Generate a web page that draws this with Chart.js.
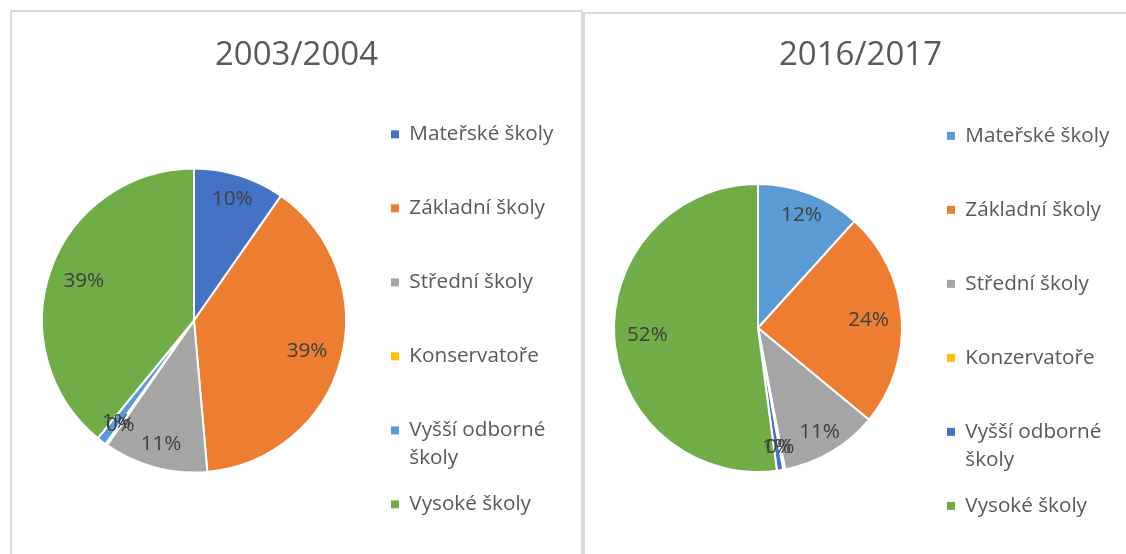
<!DOCTYPE html>
<html>
<head>
<meta charset="utf-8">
<script src="https://cdn.jsdelivr.net/npm/chart.js@4.4.1/dist/chart.umd.min.js"></script>
<style>
  html, body { margin: 0; padding: 0; background: #fff; }
  #wrap { position: relative; width: 1126px; height: 554px; overflow: hidden; }
  .panel { position: absolute; border: 2px solid #d9d9d9; box-sizing: border-box; }
  canvas { position: absolute; }
</style>
</head>
<body>
<div id="wrap">
  <div class="panel" style="left:10px; top:10px; width:573px; height:600px;"></div>
  <div class="panel" style="left:583px; top:12px; width:600px; height:600px;"></div>
  <canvas id="chart2003" width="582" height="674" style="left:0; top:0;"></canvas>
  <canvas id="chart2016" width="560" height="677" style="left:584px; top:0;"></canvas>
</div>
<script>
// share of each school type, in %
var labels2003 = ['Mateřské školy', 'Základní školy', 'Střední školy', 'Konservatoře', ['Vyšší odborné', 'školy'], 'Vysoké školy'];
var values2003 = [9.7, 38.9, 11.1, 0.2, 1.0, 39.1];
var colors2003 = ['#4472C4', '#ED7D31', '#A5A5A5', '#FFC000', '#5B9BD5', '#70AD47'];

var labels2016 = ['Mateřské školy', 'Základní školy', 'Střední školy', 'Konzervatoře', ['Vyšší odborné', 'školy'], 'Vysoké školy'];
var values2016 = [11.7, 24.3, 11.0, 0.2, 0.7, 52.1];
var colors2016 = ['#5B9BD5', '#ED7D31', '#A5A5A5', '#FFC000', '#4472C4', '#70AD47'];

var FONT = "'Open Sans', 'Noto Sans', sans-serif";
var FILLER = '\u00a0'.repeat(40); // empty 2nd legend line, keeps item rows even

// percent labels inside the slices
var pctLabels = {
  id: 'pctLabels',
  afterDatasetsDraw: function(chart) {
    var ctx = chart.ctx;
    var data = chart.data.datasets[0].data;
    var total = data.reduce(function(a, b) { return a + b; }, 0);
    chart.getDatasetMeta(0).data.forEach(function(arc, i) {
      var p = arc.getProps(['x', 'y', 'startAngle', 'endAngle', 'outerRadius'], true);
      var mid = (p.startAngle + p.endAngle) / 2;
      var k = (p.endAngle - p.startAngle) > Math.PI / 3 ? 0.77 : 0.84;
      var r = p.outerRadius * k;
      ctx.save();
      ctx.font = '20.7px ' + FONT;
      ctx.fillStyle = '#404040';
      ctx.textAlign = 'center';
      ctx.textBaseline = 'middle';
      ctx.fillText(Math.round(data[i] / total * 100) + '%', p.x + Math.cos(mid) * r, p.y + Math.sin(mid) * r);
      ctx.restore();
    });
  }
};

function makePie(id, title, labels, values, colors, radius, pad, subPad) {
  return new Chart(document.getElementById(id), {
    type: 'pie',
    data: {
      labels: labels,
      datasets: [{
        data: values,
        backgroundColor: colors,
        borderColor: '#ffffff',
        borderWidth: 2,
        radius: radius
      }]
    },
    options: {
      responsive: false,
      animation: false,
      layout: { padding: pad },
      plugins: {
        tooltip: { enabled: false },
        title: {
          display: true,
          text: title,
          color: '#595959',
          font: { family: FONT, size: 33, weight: 'normal' },
          padding: { top: 36.2, bottom: 10 }
        },
        subtitle: {
          display: true,
          text: ' ',
          position: 'bottom',
          fullSize: false,
          font: { size: 10, lineHeight: 1 },
          padding: { top: 0, bottom: subPad }
        },
        legend: {
          position: 'right',
          align: 'center',
          maxWidth: 205,
          labels: {
            boxWidth: 8,
            boxHeight: 8,
            padding: 18,
            color: '#595959',
            font: { family: FONT, size: 20.7, lineHeight: 28 / 20.7 },
            generateLabels: function(chart) {
              var items = Chart.overrides.pie.plugins.legend.labels.generateLabels(chart);
              items.forEach(function(it) {
                it.lineWidth = 0;
                if (typeof it.text === 'string') it.text = [it.text, FILLER];
              });
              return items;
            }
          }
        }
      }
    },
    plugins: [pctLabels]
  });
}

makePie('chart2003', '2003/2004', labels2003, values2003, colors2003, 152,
  { left: 15, right: 4, top: 0, bottom: 0 }, 108.8);
makePie('chart2016', '2016/2017', labels2016, values2016, colors2016, 144,
  { left: 3, right: 10, top: 0, bottom: 0 }, 96.8);
</script>
</body>
</html>
